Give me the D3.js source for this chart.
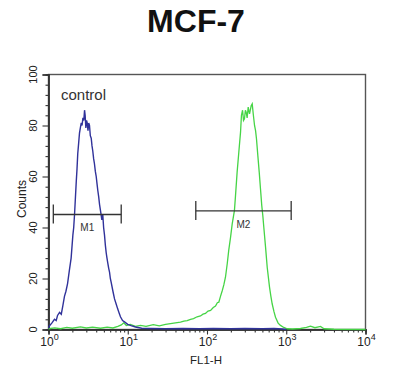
<!DOCTYPE html>
<html>
<head>
<meta charset="utf-8">
<script src="https://cdn.jsdelivr.net/npm/d3@7"></script>
<style>
  html, body { margin: 0; padding: 0; background: #fff; }
  svg { display: block; font-family: "Liberation Sans", Arial, sans-serif; }
</style>
</head>
<body>
<svg id="chart" width="400" height="366"></svg>
<script>
// ---- data ----
const title = "MCF-7";
const xLabel = "FL1-H";
const yLabel = "Counts";
const controlLabel = "control";

const xMajorTicks = [1, 10, 100, 1000, 10000];
const xTickExponents = ["0", "1", "2", "3", "4"];
const yMajorTicks = [0, 20, 40, 60, 80, 100];

// control (blue) histogram: FL1-H value, counts
const controlFL = [1.00, 1.03, 1.10, 1.19, 1.25, 1.30, 1.38, 1.45, 1.52, 1.59, 1.66, 1.74, 1.83, 1.93, 2.03, 2.08, 2.13, 2.18, 2.24, 2.29, 2.34, 2.40, 2.46, 2.52, 2.59, 2.65, 2.72, 2.79, 2.85, 2.90, 2.96, 3.02, 3.08, 3.15, 3.22, 3.29, 3.37, 3.46, 3.54, 3.62, 3.71, 3.80, 3.90, 4.00, 4.10, 4.19, 4.30, 4.41, 4.56, 4.71, 4.84, 4.96, 5.09, 5.22, 5.35, 5.47, 5.60, 5.75, 5.89, 6.03, 6.18, 6.50, 6.81, 7.14, 7.48, 7.78, 8.09, 8.60, 9.10, 10.0, 11.0, 12.5, 15, 20, 30, 50, 80, 120, 200, 300, 500, 700, 900, 1000];
const controlCounts = [0.5, 1.5, 2.5, 4, 3.5, 5.5, 6.7, 6, 9.5, 13, 15, 18, 23, 28, 37, 40, 45, 51, 58, 63, 69, 73, 77, 79, 81, 80, 83, 82, 86, 84, 79, 82, 81, 78, 81, 80, 76, 75, 72, 70, 67, 65, 62, 60, 57, 54.5, 52, 49, 46, 43, 45, 40, 37, 33, 30, 28, 26, 24, 22.5, 20, 18.5, 15, 12, 10, 8, 6.5, 5, 3.5, 3, 2, 1.5, 1, 0.5, 0.4, 0.3, 0.4, 0.3, 0.4, 0.3, 0.4, 0.3, 0.4, 0.2, 0];

// MCF-7 sample (green) histogram
const sampleFL = [1.0, 1.2, 1.42, 1.7, 2.0, 2.53, 3.0, 3.6, 4.53, 5.5, 6.5, 7.5, 8.3, 8.9, 9.6, 10.8, 12.5, 14.5, 17, 21, 25, 30, 34.6, 40, 46.3, 51, 56.2, 62, 67.6, 75, 82.8, 89, 95.7, 103, 111, 120, 128, 135, 141, 148, 156, 163, 171, 180, 188, 198, 208, 222, 229, 240, 252, 265, 272, 281, 289, 297, 305, 312, 321, 331, 344, 352, 361, 372, 383, 398, 410, 421, 438, 456, 473, 491, 506, 521, 548, 575, 615, 640, 665, 700, 732, 790, 846, 930, 1028, 1200, 1513, 1800, 2023, 2300, 2704, 3000, 4000, 10000];
const sampleCounts = [0.3, 0.6, 0.3, 0.8, 0.5, 1.0, 0.6, 0.9, 0.5, 0.9, 0.6, 1.2, 1.8, 2.6, 1.6, 2.0, 1.2, 1.6, 1.2, 1.9, 1.4, 2.0, 2.3, 2.6, 2.9, 3.3, 3.5, 4.0, 4.3, 5.0, 5.3, 6.0, 6.3, 7.2, 7.5, 8.6, 9.2, 10.5, 10.7, 13, 15.3, 17.5, 20.5, 25.8, 31, 36, 41.4, 46.7, 52.5, 61.7, 69.5, 77.4, 84, 86, 82, 82.6, 86, 85.2, 83, 87.2, 84.6, 86, 87.8, 88.5, 84.6, 80, 78, 74.8, 68.2, 61.7, 55.2, 48.6, 44.7, 40.1, 32.3, 24.4, 16.6, 13, 10, 7, 4.8, 2.5, 1.6, 0.8, 0.3, 0.2, 0.4, 0.8, 1.3, 0.7, 1.2, 0.3, 0.1, 0];

// gate markers
const markerNames = ["M1", "M2"];
const markerStart = [1.15, 72.2];
const markerEnd = [8.27, 1154];
const markerLevel = [45.1, 46.5];

// ---- chart ----
const svg = d3.select("#chart");
const x = d3.scaleLog().domain([1, 10000]).range([48.5, 365.5]);
const y = d3.scaleLinear().domain([0, 100]).range([329.5, 74.5]);

// title
svg.append("text").attr("x", 196).attr("y", 32)
  .attr("text-anchor", "middle").attr("font-size", 32).attr("font-weight", "bold")
  .attr("fill", "#111").text(title);

// frame
svg.append("rect").attr("x", x(1)).attr("y", y(100))
  .attr("width", x(10000) - x(1)).attr("height", y(0) - y(100))
  .attr("fill", "none").attr("stroke", "#555").attr("stroke-width", 1.4);

// x axis minor ticks
const xMinor = [];
for (let d = 1; d < 10000; d *= 10) for (let k = 2; k <= 9; k++) xMinor.push(d * k);
const xAxisMinor = svg.append("g").attr("transform", `translate(0,${y(0)})`)
  .call(d3.axisBottom(x).tickValues(xMinor).tickSize(3).tickFormat(""));
const xAxisMajor = svg.append("g").attr("transform", `translate(0,${y(0)})`)
  .call(d3.axisBottom(x).tickValues(xMajorTicks).tickSize(5).tickFormat(""));
[xAxisMinor, xAxisMajor].forEach(g => {
  g.select(".domain").attr("stroke", "#333").attr("stroke-width", 1.5);
  g.selectAll(".tick line").attr("stroke", "#333").attr("stroke-width", 1.1);
});

xMajorTicks.forEach((v, i) => {
  const t = svg.append("text").attr("x", x(v) + 1).attr("y", 346)
    .attr("text-anchor", "middle").attr("font-size", 12).attr("fill", "#222");
  t.append("tspan").text("10");
  t.append("tspan").attr("font-size", 9).attr("dy", -6).text(xTickExponents[i]);
});

// y axis
const yMinor = d3.range(0, 101, 4).filter(v => v % 20 !== 0);
const yAxisMinor = svg.append("g").attr("transform", `translate(${x(1)},0)`)
  .call(d3.axisLeft(y).tickValues(yMinor).tickSize(3).tickFormat(""));
const yAxisMajor = svg.append("g").attr("transform", `translate(${x(1)},0)`)
  .call(d3.axisLeft(y).tickValues(yMajorTicks).tickSize(6).tickFormat(""));
[yAxisMinor, yAxisMajor].forEach(g => {
  g.select(".domain").attr("stroke", "#333").attr("stroke-width", 1.5);
  g.selectAll(".tick line").attr("stroke", "#333").attr("stroke-width", 1.1);
});
yMajorTicks.forEach(v => {
  svg.append("text").attr("x", 37).attr("y", y(v))
    .attr("transform", `rotate(-90,37,${y(v)})`)
    .attr("text-anchor", "middle").attr("font-size", 11).attr("fill", "#222")
    .text(v);
});

// axis titles
svg.append("text").attr("x", 206).attr("y", 364)
  .attr("text-anchor", "middle").attr("font-size", 11.5).attr("fill", "#222").text(xLabel);
svg.append("text").attr("x", 26).attr("y", 199)
  .attr("transform", "rotate(-90,26,199)")
  .attr("text-anchor", "middle").attr("font-size", 12).attr("fill", "#222").text(yLabel);

// histograms
const line = d3.line().x(d => x(d[0])).y(d => y(d[1]));
svg.append("path").datum(sampleFL.map((v, i) => [v, sampleCounts[i]]))
  .attr("d", line).attr("fill", "none").attr("stroke", "#46d446").attr("stroke-width", 1.3);
svg.append("path").datum(controlFL.map((v, i) => [v, controlCounts[i]]))
  .attr("d", line).attr("fill", "none").attr("stroke", "#30329a").attr("stroke-width", 1.4);

// markers
markerNames.forEach((name, i) => {
  const g = svg.append("g").attr("stroke", "#333").attr("stroke-width", 1.3);
  const yy = y(markerLevel[i]);
  const x0 = x(markerStart[i]), x1 = x(markerEnd[i]);
  g.append("line").attr("x1", x0).attr("x2", x1).attr("y1", yy).attr("y2", yy);
  g.append("line").attr("x1", x0).attr("x2", x0).attr("y1", yy - 10).attr("y2", yy + 9);
  g.append("line").attr("x1", x1).attr("x2", x1).attr("y1", yy - 10).attr("y2", yy + 9);
  const xm = x(Math.sqrt(markerStart[i] * markerEnd[i]));
  svg.append("text").attr("x", xm).attr("y", yy + 17)
    .attr("text-anchor", "middle").attr("font-size", 10).attr("fill", "#333").text(name);
});

// control label
svg.append("text").attr("x", 61).attr("y", 100)
  .attr("font-size", 15).attr("fill", "#333").text(controlLabel);
</script>
</body>
</html>
